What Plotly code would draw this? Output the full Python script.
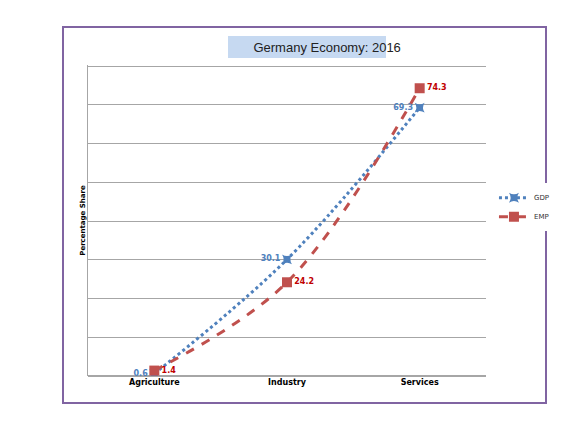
import plotly.graph_objects as go

categories = ['Agriculture', 'Industry', 'Services']
gdp = [0.6, 30.1, 69.3]
emp = [1.4, 24.2, 74.3]

L, R, T, B = 80, 102, 57, 67
W, H = 580, 435
pw, ph = W - L - R, H - T - B


def px(x):
    return (x - L) / pw


def py_(y):
    return (H - B - y) / ph


fig = go.Figure()
fig.add_trace(go.Scatter(
    x=categories, y=gdp, name='GDP', mode='lines+markers+text',
    line=dict(color='#4f81bd', width=3, dash='dot', shape='spline'),
    marker=dict(symbol='star-square', size=9, color='#4f81bd'),
    text=['<b>%.1f</b>' % v for v in gdp], textposition='middle left',
    textfont=dict(family='DejaVu Sans', size=8, color='#4f81bd'),
))
fig.add_trace(go.Scatter(
    x=categories, y=emp, name='EMP', mode='lines+markers+text',
    line=dict(color='#c0504d', width=3, dash='dash', shape='spline'),
    marker=dict(symbol='square', size=10, color='#c0504d'),
    text=['<b>%.1f</b>' % v for v in emp], textposition='middle right',
    textfont=dict(family='DejaVu Sans', size=8, color='#c00000'),
))

# outer frame and title box
fig.add_shape(type='rect', xref='paper', yref='paper',
              x0=px(55), x1=px(538), y0=py_(395), y1=py_(19),
              line=dict(color='#8064a2', width=2), layer='below')
fig.add_shape(type='rect', xref='paper', yref='paper',
              x0=px(220), x1=px(378), y0=py_(50), y1=py_(28),
              fillcolor='#c6d9f1', line=dict(width=0), layer='below')

fig.update_layout(
    width=W, height=H,
    margin=dict(l=L, r=R, t=T, b=B),
    paper_bgcolor='white', plot_bgcolor='white',
    title=dict(text='Germany Economy: 2016',
               x=px(299), xanchor='center', y=1 - 39 / H, yanchor='middle',
               font=dict(family='Liberation Sans', size=13, color='#222')),
    legend=dict(x=1.02, y=0.62, xanchor='left', yanchor='top',
                font=dict(family='DejaVu Sans', size=7, color='#333'),
                tracegroupgap=34),
    xaxis=dict(range=[-0.5, 2.5], showgrid=False, showline=False,
               tickfont=dict(family='DejaVu Sans', size=8, color='black'),
               ticks='', automargin=False,
               tickvals=categories,
               ticktext=['<b>%s</b>' % c for c in categories]),
    yaxis=dict(range=[0, 80.3], dtick=10, showticklabels=False,
               gridcolor='#a6a6a6', gridwidth=1, zeroline=True,
               zerolinecolor='#a6a6a6', showline=True, linecolor='#a6a6a6',
               automargin=False,
               title=dict(text='<b>Percentage Share</b>', standoff=0,
                          font=dict(family='DejaVu Sans', size=7, color='black'))),
)
fig.write_html('out.html')
